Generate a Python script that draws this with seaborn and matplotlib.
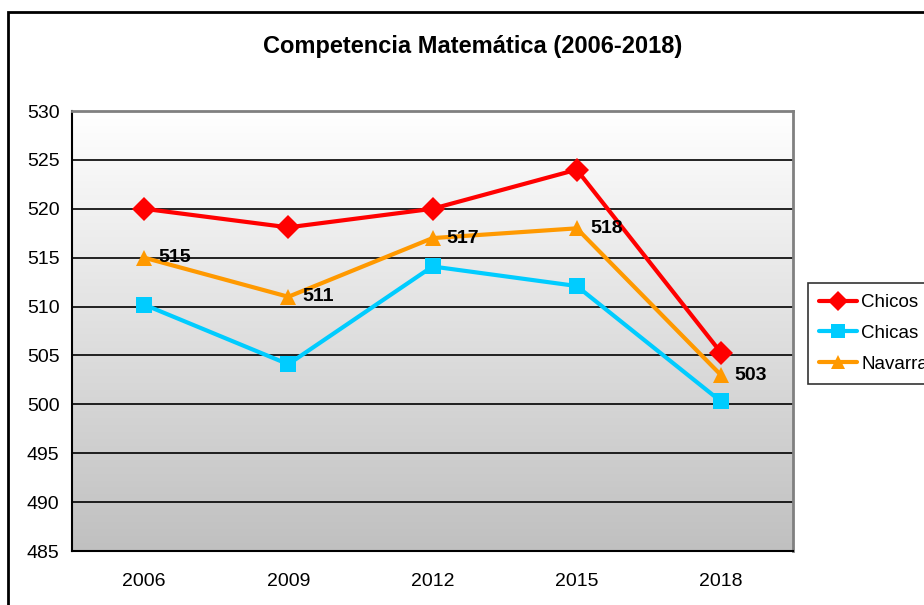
import numpy as np
import pandas as pd
import matplotlib
matplotlib.use("Agg")
import matplotlib.pyplot as plt
import seaborn as sns
from matplotlib.lines import Line2D
from matplotlib.patches import Rectangle

# Data
years = ["2006", "2009", "2012", "2015", "2018"]
chicos = [520, 518.1, 520, 524, 505.3]
chicas = [510.2, 504.1, 514.1, 512.1, 500.3]
navarra = [515, 511, 517, 518, 503]
navarra_labels = ["515", "511", "517", "518", "503"]

series = ["Chicos", "Chicas", "Navarra"]
colors = {"Chicos": "#ff0000", "Chicas": "#00ccff", "Navarra": "#ff9900"}
markers = {"Chicos": "D", "Chicas": "s", "Navarra": "^"}

df = pd.DataFrame({
    "x": list(range(len(years))) * 3,
    "value": chicos + chicas + navarra,
    "serie": ["Chicos"] * 5 + ["Chicas"] * 5 + ["Navarra"] * 5,
})

sns.set_style("white")
plt.rcParams["font.family"] = ["Liberation Sans", "DejaVu Sans"]
plt.rcParams["text.color"] = "black"
plt.rcParams["xtick.color"] = "black"
plt.rcParams["ytick.color"] = "black"
plt.rcParams["axes.labelcolor"] = "black"

fig = plt.figure(figsize=(9.24, 6.05), dpi=100)
ax = fig.add_axes([72 / 924, 54 / 605, 721 / 924, 440 / 605])

# gradient background
grad = np.linspace(0, 1, 256).reshape(-1, 1)
ax.imshow(grad, cmap=matplotlib.colors.LinearSegmentedColormap.from_list("g", ["#ffffff", "#c0c0c0"]),
          extent=[-0.5, 4.5, 485, 530], aspect="auto", origin="upper", zorder=0)

sns.lineplot(data=df, x="x", y="value", hue="serie", style="serie",
             palette=colors, markers=markers, dashes=False, linewidth=3,
             markersize=12, markeredgewidth=0, legend=False, ax=ax, zorder=3)

for i, lab in enumerate(navarra_labels):
    ax.annotate(lab, (i, navarra[i]), xytext=(10, 0), textcoords="offset points",
                ha="left", va="center", fontsize=14, fontweight="bold", zorder=4)

ax.set_xlim(-0.5, 4.5)
ax.set_ylim(485, 530)
ax.set_yticks(np.arange(485, 531, 5))
ax.set_xticks(range(len(years)))
ax.set_xticklabels(years)
ax.set_xticks(np.arange(-0.5, 4.6, 1), minor=True)
ax.tick_params(axis="x", which="major", length=0, pad=16, labelsize=14)
ax.tick_params(axis="x", which="minor", length=6, width=1.2, direction="out", color="black")
ax.tick_params(axis="y", length=6, width=1.2, direction="out", color="black", labelsize=14, pad=3)
ax.set_xlabel("")
ax.set_ylabel("")

for y in np.arange(490, 530, 5):
    ax.axhline(y, color="black", linewidth=1.2, zorder=1)

for s in ["left", "bottom"]:
    ax.spines[s].set_color("black")
    ax.spines[s].set_linewidth(1.5)
for s in ["top", "right"]:
    ax.spines[s].set_color("#808080")
    ax.spines[s].set_linewidth(2)

fig.text(473 / 924, 1 - 47 / 605, "Competencia Matemática (2006-2018)",
         ha="center", va="center", fontsize=17, fontweight="bold")

handles = [Line2D([], [], color=colors[s], marker=markers[s], linewidth=3,
                  markersize=10, markeredgewidth=0) for s in series]
leg = fig.legend(handles, series, loc="upper left", bbox_to_anchor=(808 / 924, 1 - 283 / 605),
                 fontsize=13.5, frameon=True, fancybox=False, edgecolor="black",
                 handlelength=2.0, handletextpad=0.25, borderpad=0.6, labelspacing=0.72,
                 borderaxespad=0)
leg.get_frame().set_linewidth(1.2)

# chart border
fig.patches.append(Rectangle((8 / 924, -0.1), 1.2, 1 - 12 / 605 + 0.1, transform=fig.transFigure,
                             fill=False, edgecolor="black", linewidth=2))

fig.savefig("out.png", dpi=100)
